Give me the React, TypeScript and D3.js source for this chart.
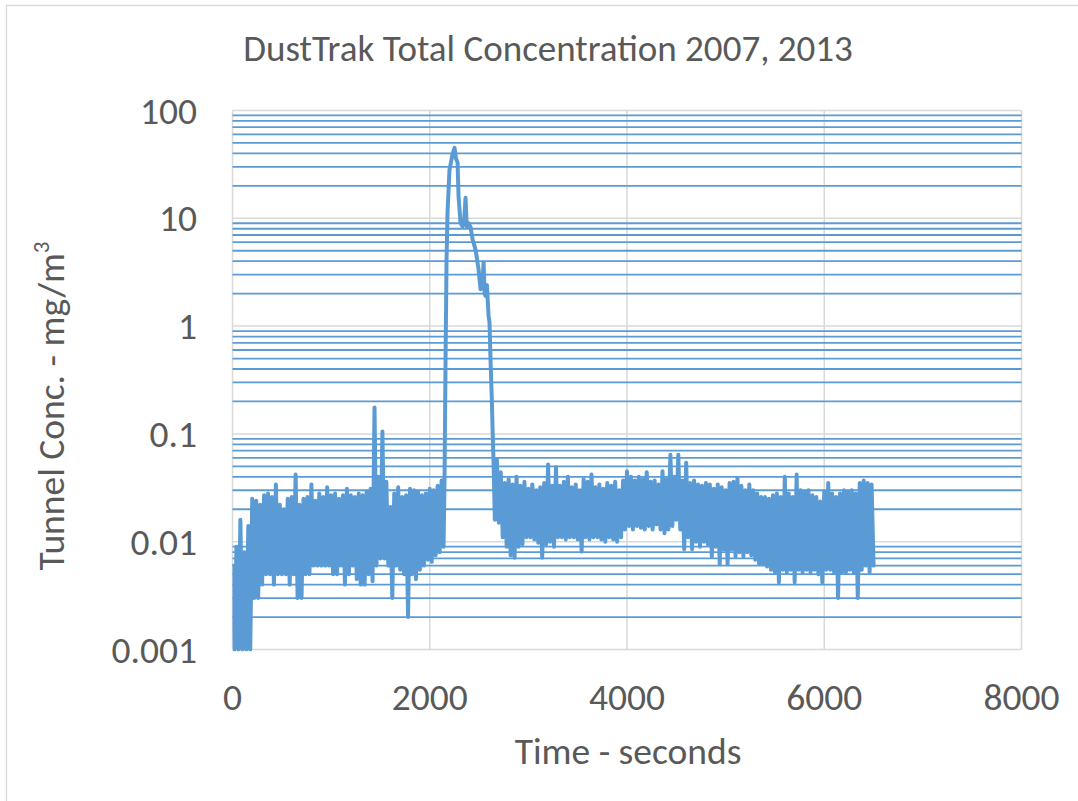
import React from "react";
import * as d3 from "d3";

const xTicks = [0, 2000, 4000, 6000, 8000];
const yTicks = [0.001, 0.01, 0.1, 1, 10, 100];
const yTickLabels = ["0.001", "0.01", "0.1", "1", "10", "100"];

// sampled band before the peak: high reading at t, low reading at t + step/2
const preStart = 0;
const bandStep = 40;
const preHigh = [
  0.006, 0.009, 0.016, 0.008, 0.014, 0.025, 0.024, 0.022, 0.027, 0.028,
  0.026, 0.034, 0.022, 0.02, 0.025, 0.026, 0.042, 0.022, 0.025, 0.026,
  0.034, 0.024, 0.028, 0.026, 0.032, 0.027, 0.028, 0.025, 0.027, 0.031,
  0.027, 0.026, 0.028, 0.027, 0.029, 0.031, 0.176, 0.04, 0.105, 0.036,
  0.021, 0.028, 0.032, 0.026, 0.027, 0.031, 0.03, 0.029, 0.027, 0.028,
  0.031, 0.03, 0.033, 0.037,
];
const preLow = [
  0.001, 0.001, 0.001, 0.001, 0.001, 0.003, 0.003, 0.004, 0.005, 0.005,
  0.004, 0.005, 0.005, 0.005, 0.004, 0.005, 0.003, 0.003, 0.005, 0.005,
  0.006, 0.006, 0.006, 0.006, 0.006, 0.005, 0.005, 0.006, 0.004, 0.005,
  0.006, 0.0045, 0.004, 0.004, 0.005, 0.0043, 0.006, 0.007, 0.007, 0.006,
  0.003, 0.006, 0.0055, 0.005, 0.002, 0.005, 0.0045, 0.0055, 0.006, 0.0068,
  0.0065, 0.0075, 0.008, 0.009,
];

// the release peak
const peakTime = [
  2150, 2160, 2170, 2180, 2200, 2230, 2252, 2265, 2282, 2292,
  2312, 2333, 2350, 2363, 2375, 2395, 2414, 2434, 2465, 2495,
  2515, 2535, 2546, 2556, 2566, 2580, 2596, 2606, 2617, 2630,
  2637, 2647, 2660,
];
const peakValue = [
  0.04, 0.46, 3.9, 11.3, 28, 39, 45, 36, 33, 16,
  9.1, 8.4, 10, 15.5, 8.4, 9.0, 8.2, 6.4, 5.1, 3.35,
  2.2, 2.6, 3.9, 2.0, 1.9, 2.4, 1.25, 1.08, 0.46, 0.2,
  0.11, 0.054, 0.016,
];

// sampled band after the peak
const postStart = 2680;
const postHigh = [
  0.058, 0.044, 0.035, 0.038, 0.034, 0.04, 0.033, 0.036, 0.031, 0.034,
  0.03, 0.032, 0.035, 0.052, 0.033, 0.049, 0.033, 0.036, 0.04, 0.032,
  0.034, 0.03, 0.038, 0.036, 0.042, 0.032, 0.034, 0.031, 0.035, 0.033,
  0.036, 0.03, 0.037, 0.045, 0.04, 0.037, 0.04, 0.038, 0.044, 0.036,
  0.037, 0.034, 0.045, 0.038, 0.064, 0.04, 0.064, 0.037, 0.054, 0.035,
  0.037, 0.034, 0.033, 0.035, 0.034, 0.031, 0.034, 0.032, 0.03, 0.035,
  0.036, 0.039, 0.033, 0.03, 0.034, 0.03, 0.028, 0.026, 0.026, 0.025,
  0.027, 0.028, 0.026, 0.04, 0.028, 0.026, 0.042, 0.03, 0.029, 0.03,
  0.027, 0.026, 0.0236, 0.029, 0.035, 0.028, 0.026, 0.028, 0.03, 0.029,
  0.03, 0.028, 0.035, 0.037, 0.035, 0.034,
];
const postLow = [
  0.015, 0.011, 0.009, 0.0075, 0.0071, 0.009, 0.0095, 0.011, 0.011, 0.0105,
  0.0098, 0.0071, 0.0095, 0.01, 0.009, 0.011, 0.011, 0.0105, 0.011, 0.011,
  0.0105, 0.0081, 0.011, 0.0105, 0.011, 0.011, 0.0105, 0.01, 0.011, 0.0105,
  0.01, 0.011, 0.013, 0.014, 0.013, 0.014, 0.0135, 0.013, 0.014, 0.013,
  0.0145, 0.013, 0.012, 0.013, 0.014, 0.016, 0.013, 0.0085, 0.011, 0.0085,
  0.01, 0.009, 0.01, 0.0095, 0.0073, 0.009, 0.0062, 0.0085, 0.0062, 0.0085,
  0.0073, 0.008, 0.0073, 0.008, 0.0075, 0.0068, 0.0062, 0.0062, 0.0059, 0.0055,
  0.0052, 0.0042, 0.0055, 0.0052, 0.0055, 0.0042, 0.0055, 0.0052, 0.0055, 0.0052,
  0.0055, 0.005, 0.0042, 0.0055, 0.0055, 0.0052, 0.003, 0.0052, 0.0052, 0.0055,
  0.0052, 0.003, 0.0055, 0.006, 0.0052, 0.006,
];

function buildSeries(): [number, number][] {
  const pts: [number, number][] = [];
  preHigh.forEach((h, i) => {
    pts.push([preStart + i * bandStep, h]);
    pts.push([preStart + i * bandStep + bandStep / 2, preLow[i]]);
  });
  peakTime.forEach((t, i) => pts.push([t, peakValue[i]]));
  postHigh.forEach((h, i) => {
    pts.push([postStart + i * bandStep, h]);
    pts.push([postStart + i * bandStep + bandStep / 2, postLow[i]]);
  });
  return pts;
}

export default function App() {
  const W = 1078;
  const H = 801;
  const plot = { left: 232.5, right: 1021.5, top: 110.5, bottom: 649.5 };
  const x = d3
    .scaleLinear()
    .domain([xTicks[0], xTicks[xTicks.length - 1]])
    .range([plot.left, plot.right]);
  const y = d3
    .scaleLog()
    .domain([yTicks[0], yTicks[yTicks.length - 1]])
    .range([plot.bottom, plot.top]);

  const minor: number[] = [];
  yTicks.slice(0, -1).forEach((d) => {
    for (let k = 2; k <= 9; k++) minor.push(d * k);
  });

  const series = buildSeries();
  const line = d3
    .line<[number, number]>()
    .x((d) => x(d[0]))
    .y((d) => y(Math.max(d[1], yTicks[0])));

  const font = "Carlito, Calibri, Lato, sans-serif";
  const txt = "#595959";
  const grid = "#d9d9d9";
  const blue = "#5B9BD5";
  const fs = 37.5;

  return (
    <svg
      width={W}
      height={H}
      style={{ position: "absolute", left: 0, top: 0, background: "#fff" }}
      xmlns="http://www.w3.org/2000/svg"
    >
      <rect x={0} y={0} width={W} height={H} fill="#fff" />
      <path d={`M6.5,${H} V5.5 H${W}`} stroke={grid} fill="none" strokeWidth={1.3} />

      <defs>
        <clipPath id="plotClip">
          <rect x={plot.left} y={plot.top - 2} width={plot.right - plot.left} height={plot.bottom - plot.top + 4} />
        </clipPath>
      </defs>

      {/* vertical gridlines */}
      {xTicks.map((t) => (
        <line key={"vx" + t} x1={x(t)} x2={x(t)} y1={plot.top} y2={plot.bottom} stroke={grid} strokeWidth={1.5} />
      ))}
      {/* major horizontal gridlines */}
      {yTicks.map((t) => (
        <line key={"hy" + t} x1={plot.left} x2={plot.right} y1={y(t)} y2={y(t)} stroke={grid} strokeWidth={1.5} />
      ))}
      {/* minor horizontal gridlines */}
      {minor.map((t, i) => (
        <line key={"mn" + i} x1={plot.left} x2={plot.right} y1={y(t)} y2={y(t)} stroke={blue} strokeWidth={1.8} />
      ))}

      <path
        d={line(series) || ""}
        fill="none"
        stroke={blue}
        strokeWidth={4}
        strokeLinejoin="round"
        strokeLinecap="round"
        clipPath="url(#plotClip)"
      />

      {/* y tick labels */}
      {yTicks.map((t, i) => (
        <text key={"yl" + t} x={197} y={y(t) + 13} textAnchor="end" fontFamily={font} fontSize={fs} fill={txt}>
          {yTickLabels[i]}
        </text>
      ))}
      {/* x tick labels */}
      {xTicks.map((t) => (
        <text key={"xl" + t} x={x(t)} y={710} textAnchor="middle" fontFamily={font} fontSize={fs} fill={txt}>
          {t}
        </text>
      ))}

      <text x={548} y={61} textAnchor="middle" fontFamily={font} fontSize={37} fill={txt}>
        DustTrak Total Concentration 2007, 2013
      </text>
      <text x={628} y={764} textAnchor="middle" fontFamily={font} fontSize={fs} fill={txt}>
        Time - seconds
      </text>
      <text
        transform={`translate(64,406) rotate(-90)`}
        textAnchor="middle"
        fontFamily={font}
        fontSize={fs}
        fill={txt}
      >
        <tspan>Tunnel Conc. - mg/m</tspan>
        <tspan fontSize={23} dy={-15}>3</tspan>
      </text>
    </svg>
  );
}
